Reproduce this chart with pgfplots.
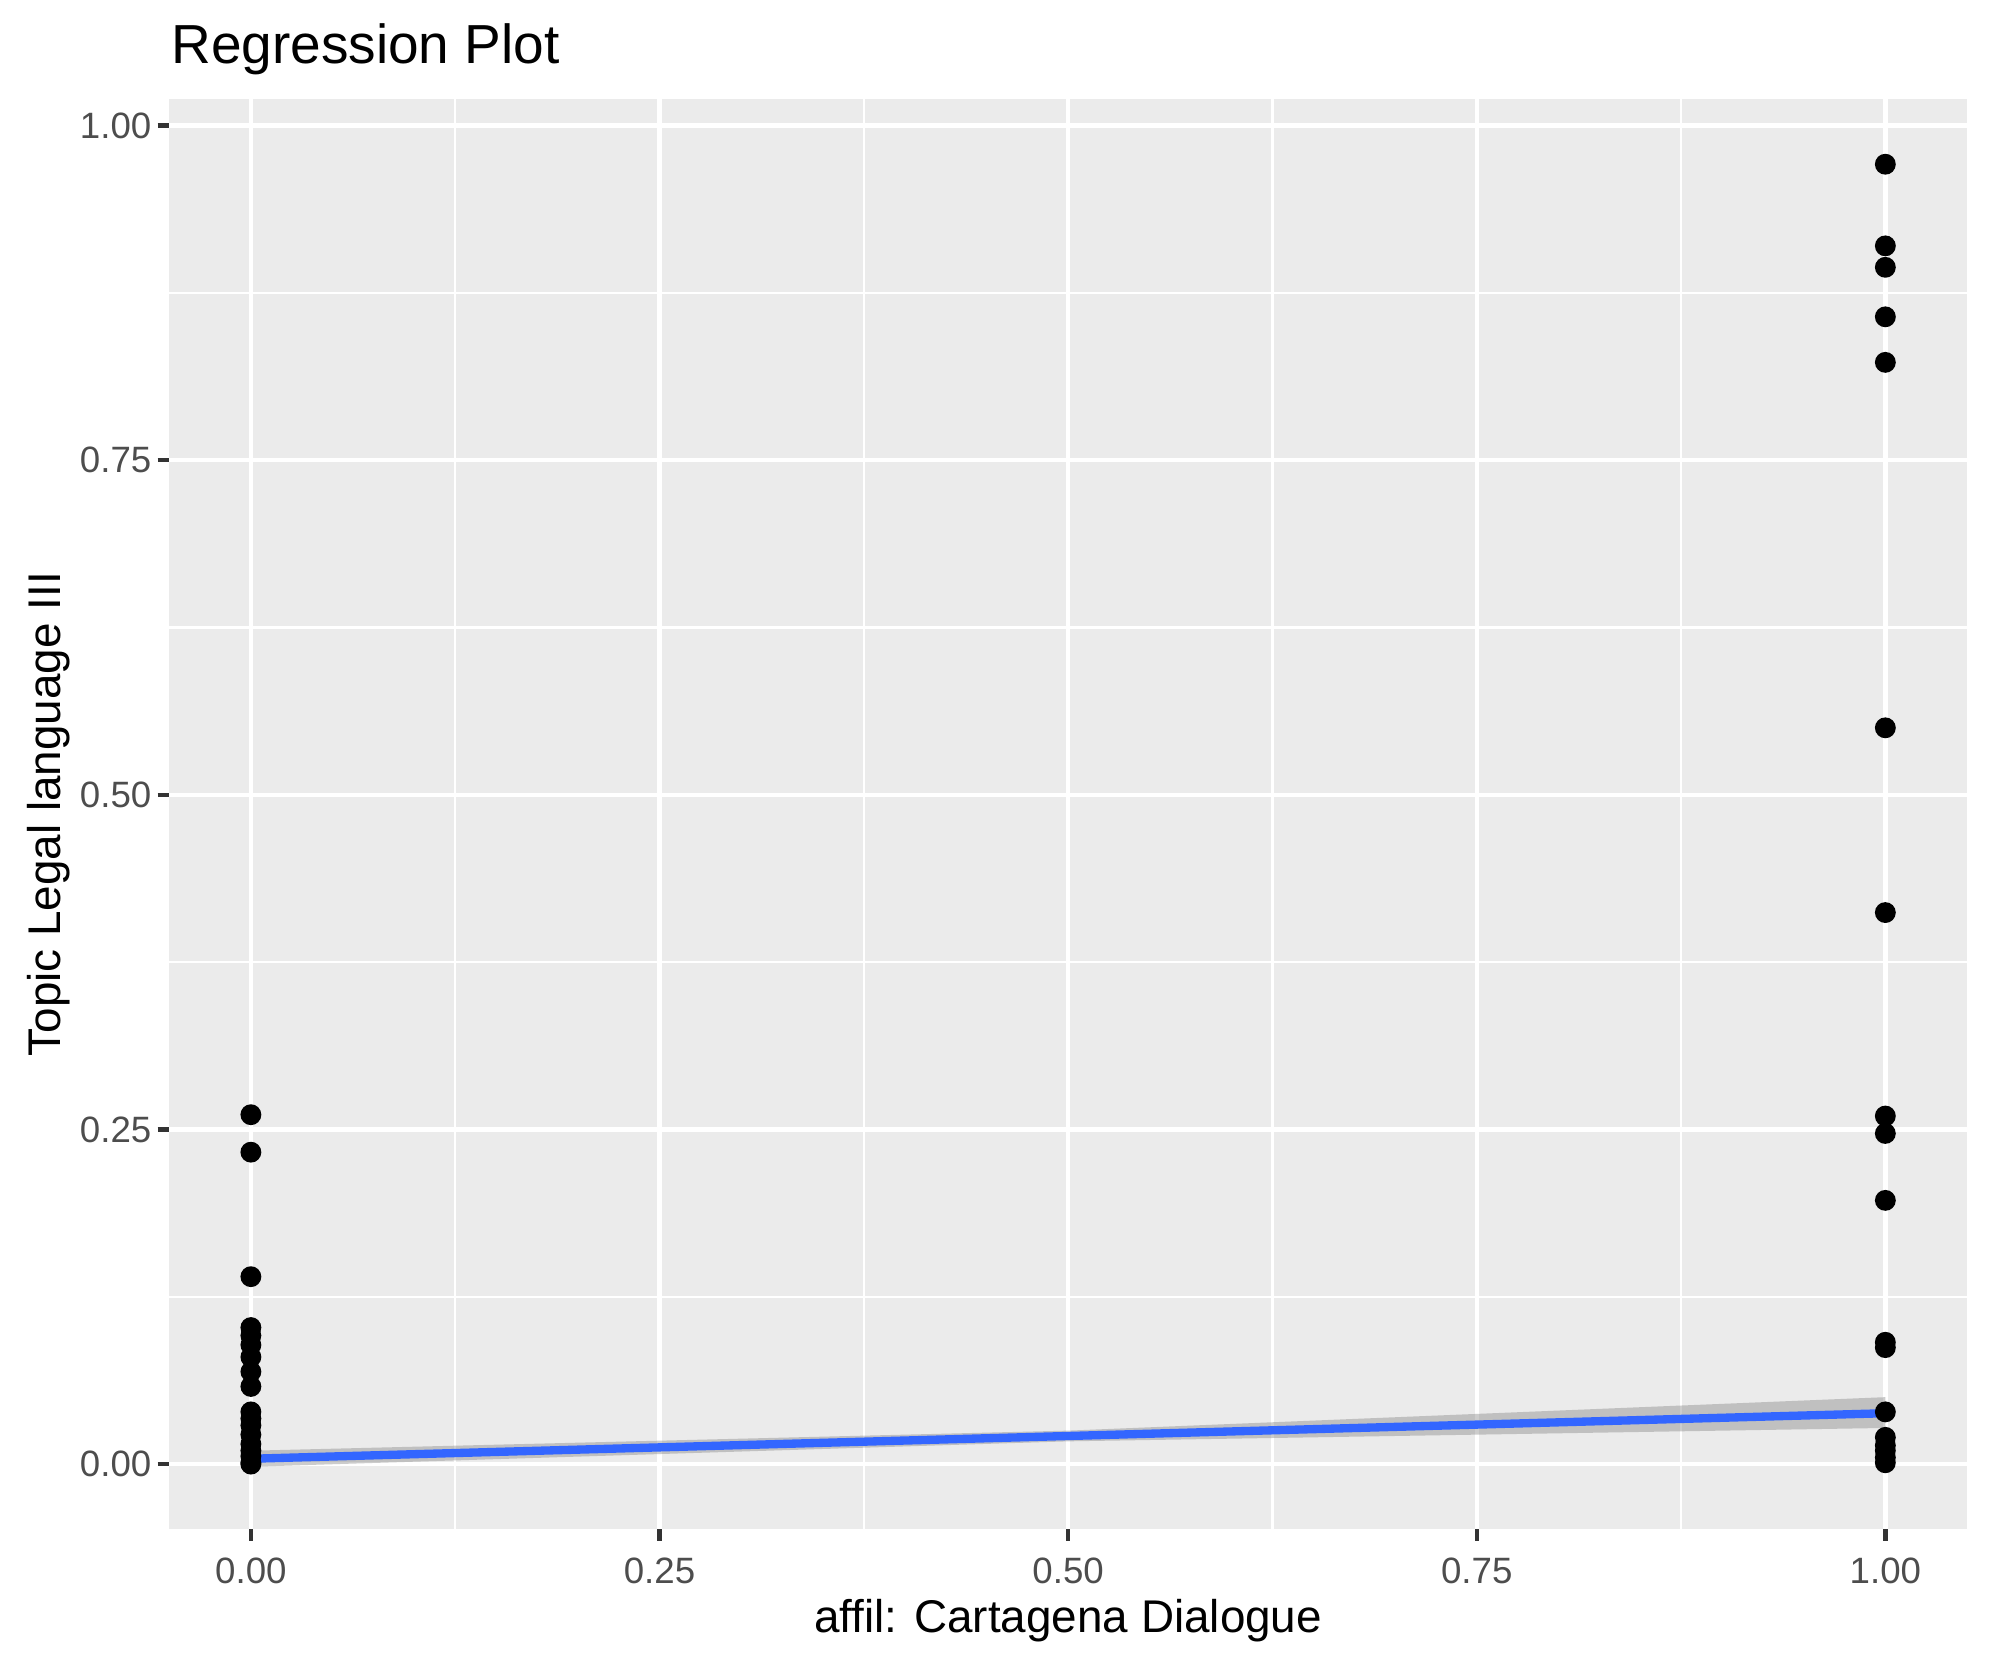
\documentclass[border=0pt]{standalone}
\usepackage{pgfplots}
\pgfplotsset{compat=1.18}
\usepackage{fontspec}
\setmainfont{Liberation Sans}
\definecolor{panelbg}{HTML}{EBEBEB}
\definecolor{grey30}{HTML}{4D4D4D}
\definecolor{grey20}{HTML}{333333}
\definecolor{smoothblue}{HTML}{3366FF}
\begin{document}
\begin{tikzpicture}
\path[use as bounding box] (-40.6pt,-32.6pt) rectangle (437.0pt,367.0pt);
\begin{axis}[
  scale only axis,
  width=431.5pt, height=343.2pt,
  at={(0,0)}, anchor=south west,
  xmin=-0.05, xmax=1.05,
  ymin=-0.0486, ymax=1.0196,
  axis background/.style={fill=panelbg},
  axis line style={draw=none},
  xtick={0,0.25,0.5,0.75,1},
  ytick={0,0.25,0.5,0.75,1},
  minor xtick={0.125,0.375,0.625,0.875},
  minor ytick={0.125,0.375,0.625,0.875},
  grid=both,
  major grid style={white, line width=1.07pt},
  minor grid style={white, line width=0.53pt},
  tick align=outside,
  xtick pos=bottom, ytick pos=left,
  major tick length=2.75pt,
  minor tick length=0pt,
  tick style={grey20, line width=1.07pt},
  /pgf/number format/assume math mode=true,
  /pgf/number format/fixed,
  /pgf/number format/fixed zerofill,
  /pgf/number format/precision=2,
  ticklabel style={font=\fontsize{8.8pt}{10pt}\selectfont, text=grey30},
  xticklabel style={yshift=-0.5pt},
  yticklabel style={xshift=2pt},
  xlabel={affil: Cartagena Dialogue},
  ylabel={Topic Legal language III},
  label style={font=\fontsize{11pt}{13pt}\selectfont, text=black},
  xlabel style={yshift=3pt},
  ylabel style={yshift=-4.6pt},
  title={Regression Plot},
  title style={font=\fontsize{13.2pt}{15pt}\selectfont, anchor=base west, at={(0,1)}, xshift=-3pt, yshift=2.5pt},
  clip=false,
]
\addplot[only marks, mark=*, mark size=2.3pt, black] coordinates {
(0,0.261) (0,0.233) (0,0.140) (0,0.102) (0,0.096) (0,0.089) (0,0.080) (0,0.069) (0,0.058)
(0,0.039) (0,0.034) (0,0.029) (0,0.022) (0,0.015) (0,0.010) (0,0.006) (0,0.001) (0,0.000)
(1,0.971) (1,0.910) (1,0.894) (1,0.857) (1,0.823) (1,0.550) (1,0.412) (1,0.260) (1,0.247)
(1,0.197) (1,0.091) (1,0.087) (1,0.039) (1,0.020) (1,0.014) (1,0.010) (1,0.005) (1,0.001)
};
\addplot[draw=none, fill=gray, fill opacity=0.4] coordinates {
(0,-0.002) (0.5,0.017) (1,0.027) (1,0.050) (0.5,0.025) (0,0.010)
} -- cycle;
\addplot[smoothblue, line width=2pt] coordinates {(0,0.004) (1,0.038)};
\end{axis}
\end{tikzpicture}
\end{document}
